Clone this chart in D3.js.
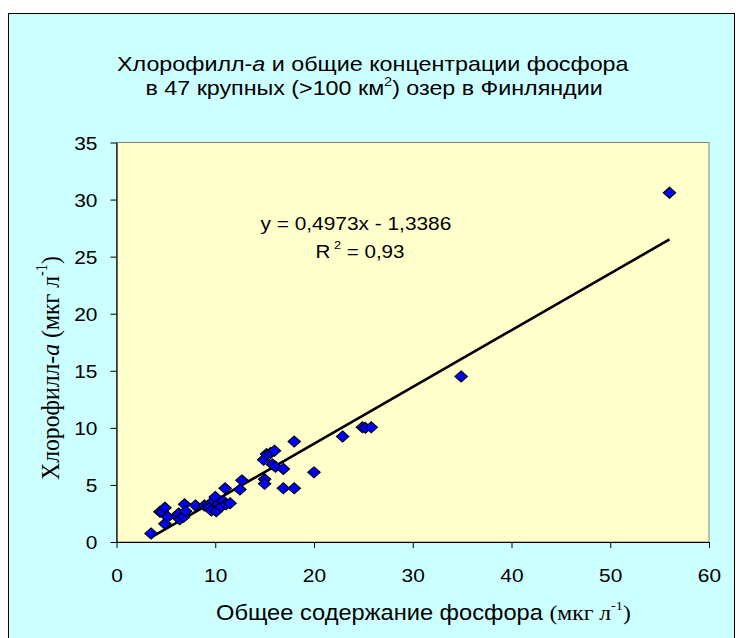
<!DOCTYPE html>
<html><head><meta charset="utf-8">
<script src="https://cdn.jsdelivr.net/npm/d3@7/dist/d3.min.js"></script>
<style>body{margin:0;background:#fff;overflow:hidden}</style></head>
<body>
<svg id="c" width="736" height="638"></svg>
<script>
// ---- data ----
const phosphorus = [3.5, 4.4, 4.65, 4.9, 4.9, 5.2, 6.1, 6.3, 6.4, 6.8, 6.9, 7.0, 8.0, 8.9, 9.3, 9.4, 9.6, 9.8, 10.0, 10.1, 10.3, 10.6, 10.8, 11.0, 11.1, 11.5, 12.5, 12.7, 14.9, 15.0, 15.0, 15.2, 15.6, 16.0, 15.8, 16.1, 16.9, 16.9, 18.0, 18.0, 20.0, 22.9, 24.9, 25.2, 25.8, 34.9, 56.0];
const chlorophyll = [0.75, 2.65, 2.6, 3.0, 1.6, 2.2, 2.3, 2.5, 2.0, 2.2, 3.3, 2.7, 3.2, 3.2, 3.2, 3.0, 2.75, 3.6, 3.95, 2.7, 3.3, 3.1, 3.6, 4.7, 3.3, 3.4, 4.6, 5.4, 7.2, 5.5, 5.1, 7.7, 7.8, 8.0, 6.8, 6.6, 6.4, 4.7, 8.8, 4.7, 6.1, 9.25, 10.05, 10.0, 10.05, 14.5, 30.6];
const xTicks = [0, 10, 20, 30, 40, 50, 60];
const yTicks = [0, 5, 10, 15, 20, 25, 30, 35];
const trendSlope = 0.4973, trendIntercept = -1.3386;
const trendRange = [3.5, 56];

const svg = d3.select("#c");
const SANS = "'Liberation Sans', Arial, sans-serif";
const SERIF = "'Liberation Serif', 'Times New Roman', serif";
const STRETCH = 1.1;

// chart area background
svg.append("rect").attr("x", 8.5).attr("y", 13.5).attr("width", 726).attr("height", 640)
  .attr("fill", "#CCFFFF").attr("stroke", "#000").attr("stroke-width", 1);

const x = d3.scaleLinear().domain([0, 60]).range([116.5, 709]);
const y = d3.scaleLinear().domain([0, 35]).range([542, 142.5]);

// plot area
svg.append("rect").attr("x", x(0)).attr("y", y(35)).attr("width", x(60) - x(0)).attr("height", y(0) - y(35))
  .attr("fill", "#FFFFCC").attr("stroke", "#808080").attr("stroke-width", 1);

// axes
const xAxis = svg.append("g").attr("transform", `translate(0,${y(0)})`)
  .call(d3.axisBottom(x).tickValues(xTicks).tickSize(6).tickSizeOuter(0).tickFormat(d3.format("d")));
const yAxis = svg.append("g").attr("transform", `translate(${x(0)},0)`)
  .call(d3.axisLeft(y).tickValues(yTicks).tickSize(6).tickSizeOuter(0).tickFormat(d3.format("d")));
[xAxis, yAxis].forEach(g => {
  g.select(".domain").attr("stroke", "#000").attr("stroke-width", 1.2);
  g.selectAll(".tick line").attr("stroke", "#000");
  g.selectAll(".tick text").attr("font-family", SANS).attr("font-size", 19).attr("fill", "#000");
});
xAxis.selectAll(".tick text").attr("dy", null).attr("y", 0)
  .attr("transform", `translate(0,40) scale(${STRETCH},1)`);
yAxis.selectAll(".tick text").attr("x", 0).attr("dy", "0.36em")
  .attr("transform", `translate(-19,0) scale(${STRETCH},1)`);

// trend line
svg.append("line")
  .attr("x1", x(trendRange[0])).attr("y1", y(trendSlope * trendRange[0] + trendIntercept))
  .attr("x2", x(trendRange[1])).attr("y2", y(trendSlope * trendRange[1] + trendIntercept))
  .attr("stroke", "#000").attr("stroke-width", 2.6);

// points
const diamond = "M0,-5.5L6.2,0L0,5.5L-6.2,0Z";
svg.append("g").selectAll("path").data(phosphorus.map((p, i) => [p, chlorophyll[i]]))
  .join("path").attr("d", diamond)
  .attr("transform", d => `translate(${x(d[0])},${y(d[1])})`)
  .attr("fill", "#0000FF").attr("stroke", "#000").attr("stroke-width", 1.1);

// helper: choose font size so that text with a fixed horizontal stretch spans the target width
function fit(t, x0, x1, yb, st) {
  st = st || STRETCH;
  t.attr("font-size", 20);
  const w = t.node().getComputedTextLength();
  const fs = 20 * (x1 - x0) / (w * st);
  t.attr("font-size", fs).attr("x", 0).attr("y", 0)
    .attr("transform", `translate(${x0},${yb}) scale(${st},1)`);
}

// title
const t1 = svg.append("text").attr("font-family", SANS).attr("fill", "#000");
t1.append("tspan").text("Хлорофилл-");
t1.append("tspan").attr("font-style", "italic").text("а");
t1.append("tspan").text(" и общие концентрации фосфора");
fit(t1, 117, 629, 71, 1.2);
const t2 = svg.append("text").attr("font-family", SANS).attr("fill", "#000");
t2.append("tspan").text("в 47 крупных (>100 км");
t2.append("tspan").attr("font-size", "0.62em").attr("dy", "-0.75em").text("2");
t2.append("tspan").attr("dy", "0.47em").text(") озер в Финляндии");
fit(t2, 145.5, 603, 95, 1.2);

// equation
const e1 = svg.append("text").attr("font-family", SANS).attr("fill", "#000")
  .text("y = 0,4973x - 1,3386");
fit(e1, 260.5, 451.5, 230);
const e2 = svg.append("text").attr("font-family", SANS).attr("fill", "#000");
e2.append("tspan").text("R");
e2.append("tspan").attr("font-size", "0.62em").attr("dy", "-0.75em").text(" 2");
e2.append("tspan").attr("dy", "0.47em").text(" = 0,93");
fit(e2, 315.5, 404.5, 258);

// x axis label
const xl = svg.append("text").attr("font-family", SANS).attr("fill", "#000");
xl.append("tspan").text("Общее содержание фосфора  ");
xl.append("tspan").attr("font-family", SERIF).text("(мкг л");
xl.append("tspan").attr("font-family", SERIF).attr("font-size", "0.6em").attr("dy", "-0.75em").text("-1");
xl.append("tspan").attr("font-family", SERIF).attr("dy", "0.45em").text(")");
fit(xl, 216, 631, 620);

// y axis label (rotated); span along y from 256 (top) to 480 (bottom), baseline at x=59
const yl = svg.append("text").attr("font-family", SERIF).attr("fill", "#000");
yl.append("tspan").text("Хлорофилл-");
yl.append("tspan").attr("font-style", "italic").text("a");
yl.append("tspan").text(" (мкг л");
yl.append("tspan").attr("font-size", "0.6em").attr("dy", "-0.75em").text("-1");
yl.append("tspan").attr("dy", "0.45em").text(")");
{
  yl.attr("font-size", 20);
  const w = yl.node().getComputedTextLength();
  const fs = 20 * (480 - 256) / w;
  yl.attr("font-size", fs).attr("x", 0).attr("y", 0)
    .attr("transform", `translate(59,480) scale(${STRETCH},1) rotate(-90)`);
}
</script>
</body></html>
